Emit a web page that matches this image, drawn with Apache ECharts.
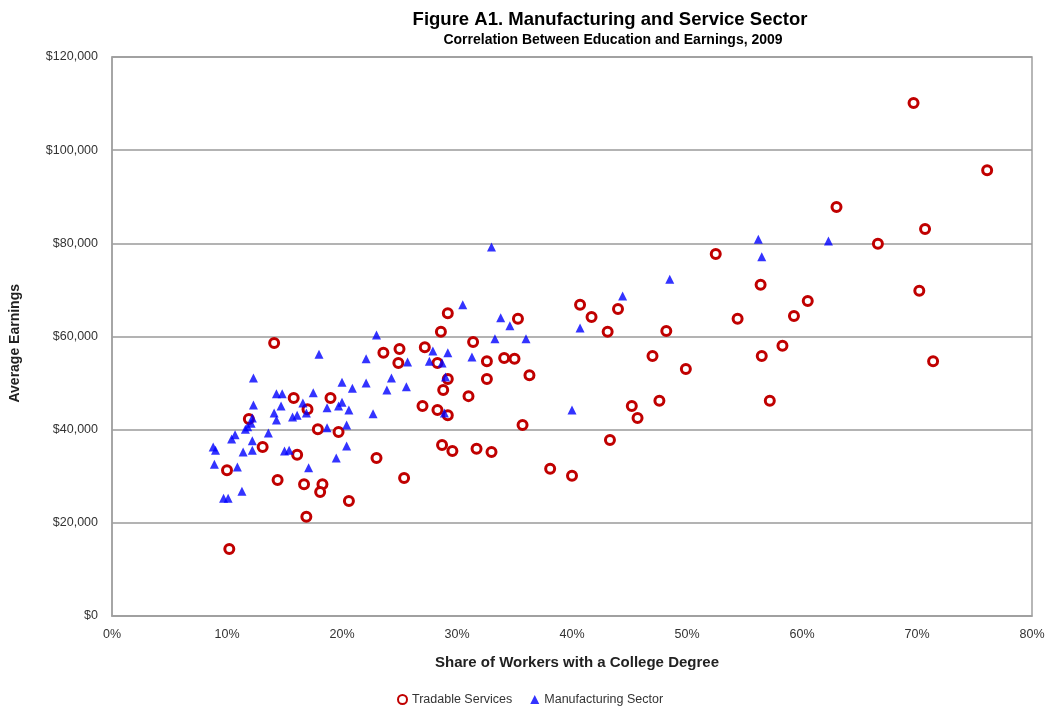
<!DOCTYPE html>
<html><head><meta charset="utf-8">
<script src="https://cdn.jsdelivr.net/npm/echarts@6/dist/echarts.min.js"></script>
<style>html,body{margin:0;padding:0;background:#fff}#c{width:1053px;height:711px}</style>
</head><body><div id="c"></div>
<script>
// Share of workers with college degree (%), average earnings ($)
const tradableX = [69.7,76.1,63.0,70.7,66.6,52.5,56.4,70.2,60.5,59.3,54.4,48.2,47.0,56.5,58.3,71.4,49.9,47.6,57.2,45.2,45.7,43.3,40.7,41.7,44.0,43.1,38.1,40.0,35.7,35.3,29.2,28.6,31.4,27.2,28.3,32.6,34.1,35.0,29.2,32.6,36.3,28.8,31.0,27.0,28.3,29.2,28.7,29.6,31.7,33.0,23.6,25.0,24.9,19.0,17.9,19.7,23.0,25.4,18.3,18.1,20.6,14.1,15.8,17.0,11.9,13.1,16.1,10.0,14.4,16.7,16.9,10.2];
const tradableY = [110100,95700,87800,83100,79900,77700,71100,69800,67600,64400,63800,61200,55800,55800,58000,54700,53000,46200,46200,45100,42500,37800,66800,64200,65900,61000,31600,30100,41000,63800,65000,61000,58800,57700,54300,54700,55400,55200,50900,50900,51700,48500,47200,45100,44200,43100,36700,35400,35900,35200,56500,57300,54300,46800,40100,39500,33900,29600,28300,26600,24700,58600,46800,44400,42300,36300,34600,31300,29200,28300,21300,14400];
const manufX = [8.8,9.0,8.9,9.7,10.1,10.4,10.7,10.9,11.3,11.4,11.6,11.8,12.1,12.2,12.2,12.2,12.3,12.3,13.6,14.1,14.3,14.8,14.7,14.3,15.0,15.4,15.7,16.1,16.6,16.9,17.1,17.5,18.0,18.7,18.7,19.5,19.7,20.0,20.0,20.4,20.4,20.6,20.9,22.1,22.1,22.7,23.0,23.9,24.3,25.6,25.7,27.6,27.9,28.7,29.0,28.9,29.2,30.5,31.3,33.0,33.3,33.8,34.6,36.0,40.0,40.7,44.4,48.5,56.2,56.5,62.3];
const manufY = [36300,35600,32600,25300,25300,38000,38900,32000,26800,35200,40100,40600,41400,42500,37600,35600,45300,51100,39300,43600,47700,47700,45100,42100,35400,35600,42700,43100,45700,43600,31800,47900,56200,44700,40400,33900,45100,45900,50200,41000,36500,44200,48900,55200,50000,43400,60300,48500,51100,49200,54500,54700,56900,54300,51300,43600,56500,66800,55600,79200,59500,64000,62300,59500,44200,61800,68700,72300,80900,77100,80500];
const xTicks = [0,10,20,30,40,50,60,70,80];
const yTicks = [0,20000,40000,60000,80000,100000,120000];

const FONT = 'Liberation Sans, Arial, sans-serif';
const chart = echarts.init(document.getElementById('c'), null, {renderer:'canvas'});
const zip = (a,b)=>a.map((v,i)=>[v,b[i]]);
chart.setOption({
  animation:false,
  backgroundColor:'#fff',
  title:[
    {text:'Figure A1. Manufacturing and Service Sector', left:605, top:5, textAlign:'center',
     textStyle:{fontFamily:FONT,fontSize:18.5,fontWeight:'bold',color:'#000'}},
    {text:'Correlation Between Education and Earnings, 2009', left:608, top:28, textAlign:'center',
     textStyle:{fontFamily:FONT,fontSize:14,fontWeight:'bold',color:'#000'}}
  ],
  graphic:[
    {type:'text',left:8,top:284,rotation:Math.PI/2,
     style:{text:'Average Earnings',font:'bold 14px '+FONT,fill:'#222'}}
  ],
  grid:{left:112,right:21,top:57,bottom:95,show:true,borderColor:'#a0a0a0',borderWidth:1.5},
  xAxis:{type:'value',min:xTicks[0],max:xTicks[xTicks.length-1],interval:10,
    name:'Share of Workers with a College Degree',nameLocation:'middle',nameGap:39,
    nameTextStyle:{fontFamily:FONT,fontSize:15,fontWeight:'bold',color:'#222',padding:[0,0,0,10]},
    axisLine:{show:true,lineStyle:{color:'#a0a0a0',width:1.5}},axisTick:{show:false},
    splitLine:{show:false},
    axisLabel:{fontFamily:FONT,fontSize:12.5,color:'#333',margin:12,formatter:v=>v+'%'}},
  yAxis:{type:'value',min:yTicks[0],max:yTicks[yTicks.length-1],interval:20000,
    axisLine:{show:true,lineStyle:{color:'#a0a0a0',width:1.5}},axisTick:{show:false},
    splitLine:{show:true,lineStyle:{color:'#9a9a9a',width:1.5}},
    axisLabel:{fontFamily:FONT,fontSize:12.5,color:'#333',margin:14,
      formatter:v=>'$'+v.toLocaleString('en-US')}},
  legend:{bottom:0,left:392,itemGap:18,itemWidth:9,itemHeight:9,
    textStyle:{fontFamily:FONT,fontSize:12.5,color:'#333'},
    data:[{name:'Tradable Services',icon:'circle'},{name:'Manufacturing Sector',icon:'triangle'}]},
  series:[
    {name:'Tradable Services',type:'scatter',symbol:'circle',symbolSize:9,
     itemStyle:{color:'#ffffff',borderColor:'#c00000',borderWidth:3,opacity:1},
     data:zip(tradableX,tradableY)},
    {name:'Manufacturing Sector',type:'scatter',symbol:'triangle',symbolSize:9,
     itemStyle:{color:'#0000ff'},
     data:zip(manufX,manufY)}
  ]
});
</script></body></html>
